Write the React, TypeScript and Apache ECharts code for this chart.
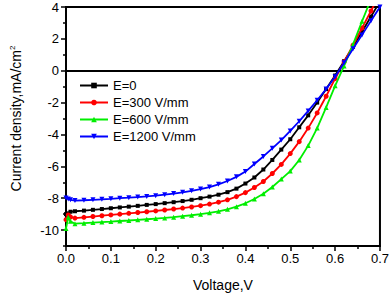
import React, { useEffect, useRef } from "react";
import * as echarts from "echarts";

const voltage = [0, 0.005, 0.01, 0.02, 0.04, 0.06, 0.08, 0.1, 0.12, 0.14, 0.16, 0.18, 0.2, 0.22, 0.24, 0.26, 0.28, 0.3, 0.32, 0.34, 0.36, 0.38, 0.4, 0.42, 0.44, 0.46, 0.48, 0.5, 0.52, 0.54, 0.56, 0.58, 0.6, 0.62, 0.64, 0.66, 0.68, 0.7];

const seriesNames = ["E=0", "E=300 V/mm", "E=600 V/mm", "E=1200 V/mm"];

const jE0 = [-9.0, -8.95, -8.85, -8.82, -8.78, -8.73, -8.68, -8.63, -8.58, -8.53, -8.48, -8.42, -8.37, -8.31, -8.25, -8.18, -8.1, -8.0, -7.9, -7.78, -7.62, -7.4, -7.08, -6.7, -6.2, -5.6, -4.95, -4.3, -3.55, -2.8, -2.0, -1.15, -0.3, 0.6, 1.5, 2.45, 3.4, 4.35];
const jE300 = [-9.35, -9.05, -9.18, -9.25, -9.2, -9.15, -9.1, -9.05, -9.0, -8.95, -8.9, -8.85, -8.8, -8.74, -8.68, -8.62, -8.55, -8.47, -8.37, -8.25, -8.1, -7.9, -7.65, -7.33, -6.95, -6.45, -5.88, -5.2, -4.45, -3.6, -2.65, -1.6, -0.5, 0.55, 1.6, 2.68, 3.75, 4.85];
const jE600 = [-9.9, -9.2, -9.45, -9.6, -9.57, -9.53, -9.5, -9.47, -9.43, -9.4, -9.36, -9.32, -9.28, -9.24, -9.19, -9.13, -9.07, -9.0, -8.92, -8.82, -8.7, -8.53, -8.32, -8.05, -7.72, -7.3, -6.8, -6.3, -5.6, -4.7, -3.6, -2.3, -0.95, 0.3, 1.65, 3.1, 4.5, 5.9];
const jE1200 = [-7.98, -8.05, -8.1, -8.15, -8.13, -8.1, -8.07, -8.04, -8.0, -7.97, -7.93, -7.89, -7.84, -7.78, -7.71, -7.63, -7.54, -7.43, -7.3, -7.13, -6.92, -6.66, -6.33, -5.85, -5.38, -4.87, -4.35, -3.78, -3.17, -2.52, -1.85, -1.15, -0.38, 0.5, 1.38, 2.25, 3.13, 4.0];

const yMajorTicks = [-10, -8, -6, -4, -2, 0, 2, 4];
const yMinorTicks = [-11, -9, -7, -5, -3, -1, 1, 3];

const colors = ["#000000", "#ff0000", "#00ee00", "#0000ff"];
const symbols = ["rect", "circle", "triangle", "path://M0,0 L10,0 L5,10 Z"];

const FONT = "'Liberation Sans', Arial, sans-serif";

export default function App() {
  const ref = useRef<HTMLDivElement>(null);
  useEffect(() => {
    if (!ref.current) return;
    const chart = echarts.init(ref.current, null, { renderer: "svg" });
    const allJ = [jE0, jE300, jE600, jE1200];
    chart.setOption({
      animation: false,
      backgroundColor: "#ffffff",
      textStyle: { fontFamily: FONT },
      grid: {
        left: 61,
        right: 11,
        top: 7,
        bottom: 51,
        show: true,
        borderColor: "#000",
        borderWidth: 2,
        backgroundColor: "transparent",
      },
      legend: {
        show: true,
        orient: "vertical",
        left: 74,
        top: 74,
        itemWidth: 28,
        itemHeight: 7,
        itemGap: 4,
        data: seriesNames,
        textStyle: { fontSize: 13, color: "#000", fontFamily: FONT },
      },
      xAxis: {
        type: "value",
        min: 0,
        max: 0.7,
        interval: 0.1,
        name: "Voltage,V",
        nameLocation: "middle",
        nameGap: 32,
        nameTextStyle: { fontSize: 14, color: "#000", fontFamily: FONT },
        axisLine: { show: true, onZero: false, lineStyle: { color: "#000", width: 2 } },
        axisTick: { show: true, inside: false, length: 5, lineStyle: { color: "#000", width: 1.5 } },
        minorTick: { show: true, splitNumber: 2, length: 3, lineStyle: { color: "#000", width: 1.5 } },
        axisLabel: { fontSize: 13, color: "#000", margin: 6, formatter: (v: number) => v.toFixed(1) },
        splitLine: { show: false },
        minorSplitLine: { show: false },
      },
      yAxis: [
        {
          type: "value",
          min: -11,
          max: 4,
          name: "Current density,mA/cm{sup|2}",
          nameLocation: "middle",
          nameGap: 42,
          nameTextStyle: {
            fontSize: 14,
            color: "#000",
            fontFamily: FONT,
            padding: [0, 0, 0, 16],
            rich: { sup: { fontSize: 8, verticalAlign: "top", padding: [0, 0, 8, 0], color: "#000", fontFamily: FONT } },
          },
          axisLine: { show: true, onZero: false, lineStyle: { color: "#000", width: 2 } },
          axisTick: { show: true, inside: false, length: 5, customValues: yMajorTicks, lineStyle: { color: "#000", width: 1.5 } },
          axisLabel: { fontSize: 13, color: "#000", margin: 7, customValues: yMajorTicks },
          splitLine: { show: false },
        },
        {
          type: "value",
          min: -11,
          max: 4,
          position: "left",
          axisLine: { show: false },
          axisTick: { show: true, inside: false, length: 3, customValues: yMinorTicks, lineStyle: { color: "#000", width: 1.5 } },
          axisLabel: { show: false },
          splitLine: { show: false },
        },
      ],
      series: seriesNames.map((name, i) => ({
        name,
        type: "line",
        data: voltage.map((v, k) => [v, allJ[i][k]]),
        yAxisIndex: 0,
        symbol: symbols[i],
        symbolSize: i === 0 ? 4 : 5,
        showSymbol: true,
        smooth: false,
        clip: true,
        color: colors[i],
        lineStyle: { color: colors[i], width: 1.8 },
        itemStyle: { color: colors[i] },
        z: 3 + i,
        markLine:
          i === 0
            ? {
                silent: true,
                symbol: "none",
                label: { show: false },
                lineStyle: { color: "#000", width: 1.8, type: "solid" },
                data: [{ yAxis: 0 }],
              }
            : undefined,
      })),
    });
    return () => chart.dispose();
  }, []);
  return <div ref={ref} style={{ position: "absolute", left: 0, top: 0, width: 392, height: 297 }} />;
}
